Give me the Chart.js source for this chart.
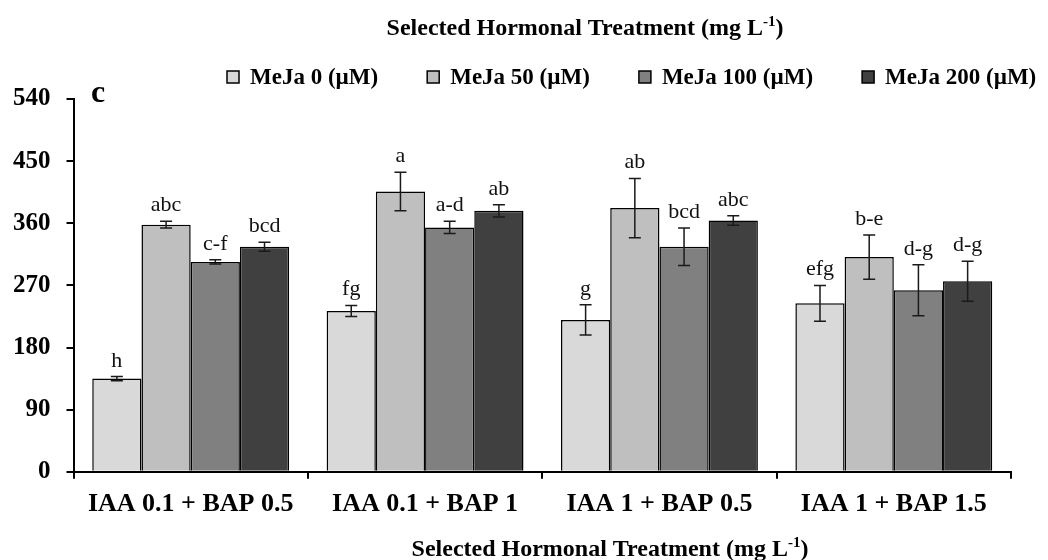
<!DOCTYPE html>
<html>
<head>
<meta charset="utf-8">
<script src="https://cdn.jsdelivr.net/npm/chart.js@4.4.0/dist/chart.umd.min.js"></script>
<style>
  html, body { margin: 0; padding: 0; background: #fff; }
</style>
</head>
<body>
<canvas id="myChart" width="1048" height="560"></canvas>
<script>
const treatments = ["IAA 0.1 + BAP 0.5", "IAA 0.1 + BAP 1", "IAA 1 + BAP 0.5", "IAA 1 + BAP 1.5"];
const seriesNames = ["MeJa 0 (µM)", "MeJa 50 (µM)", "MeJa 100 (µM)", "MeJa 200 (µM)"];
const seriesColors = ["#d9d9d9", "#bfbfbf", "#808080", "#404040"];

const meja0 = [135, 233, 220, 244];
const meja50 = [358, 406, 382, 311];
const meja100 = [304, 354, 326, 263];
const meja200 = [326, 378, 364, 276];

const err0 = [3, 8, 22, 26];
const err50 = [5, 28, 43, 32];
const err100 = [3, 9, 27, 37];
const err200 = [6.5, 9, 7, 29];

const letters0 = ["h", "fg", "g", "efg"];
const letters50 = ["abc", "a", "ab", "b-e"];
const letters100 = ["c-f", "a-d", "bcd", "d-g"];
const letters200 = ["bcd", "ab", "abc", "d-g"];

const yTicks = [0, 90, 180, 270, 360, 450, 540];

const SERIF = "'Liberation Serif', 'Times New Roman', serif";

function makeDataset(i, values, errors, letters) {
    return {
        label: seriesNames[i],
        data: values,
        errors: errors,
        letters: letters,
        backgroundColor: seriesColors[i],
        borderColor: "#000",
        borderWidth: 1.5,
        categoryPercentage: 0.84,
        barPercentage: 1.0
    };
}

// error bars plus the significance letters above them
const errorBars = {
    id: "errorBars",
    afterDatasetsDraw(chart) {
        const { ctx, scales: { y } } = chart;
        ctx.save();
        chart.data.datasets.forEach((ds, di) => {
            const meta = chart.getDatasetMeta(di);
            meta.data.forEach((bar, i) => {
                const v = ds.data[i];
                const e = ds.errors[i];
                const top = y.getPixelForValue(v + e);
                const bot = y.getPixelForValue(v - e);
                const x = bar.x;
                ctx.strokeStyle = "#1a1a1a";
                ctx.lineWidth = 1.5;
                ctx.beginPath();
                ctx.moveTo(x, top); ctx.lineTo(x, bot);
                ctx.moveTo(x - 6, top); ctx.lineTo(x + 6, top);
                ctx.moveTo(x - 6, bot); ctx.lineTo(x + 6, bot);
                ctx.stroke();

                ctx.fillStyle = "#111";
                ctx.font = "22px " + SERIF;
                ctx.textAlign = "center";
                ctx.textBaseline = "alphabetic";
                ctx.fillText(ds.letters[i], x, top - 10);
            });
        });
        ctx.restore();
    }
};

function drawAxisTitle(ctx, cx, cy) {
    const main = "Selected Hormonal Treatment (mg L";
    const sup = "-1";
    const tail = ")";
    ctx.font = "bold 24px " + SERIF;
    const w1 = ctx.measureText(main).width;
    const w3 = ctx.measureText(tail).width;
    ctx.font = "bold 15px " + SERIF;
    const w2 = ctx.measureText(sup).width;
    let x = cx - (w1 + w2 + w3) / 2;
    ctx.textAlign = "left";
    ctx.textBaseline = "alphabetic";
    ctx.font = "bold 24px " + SERIF;
    ctx.fillText(main, x, cy);
    x += w1;
    ctx.font = "bold 15px " + SERIF;
    ctx.fillText(sup, x, cy - 9);
    x += w2;
    ctx.font = "bold 24px " + SERIF;
    ctx.fillText(tail, x, cy);
}

// titles, legend and panel letter
const decorations = {
    id: "decorations",
    afterDraw(chart) {
        const { ctx } = chart;
        ctx.save();
        ctx.fillStyle = "#000";
        drawAxisTitle(ctx, 585, 35);
        drawAxisTitle(ctx, 610, 556);

        ctx.font = "bold 32px " + SERIF;
        ctx.textAlign = "left";
        ctx.textBaseline = "alphabetic";
        ctx.fillText("c", 91, 102);

        let x = 227;
        const ly = 77;
        chart.data.datasets.forEach((ds) => {
            ctx.fillStyle = ds.backgroundColor;
            ctx.fillRect(x, ly - 6, 12, 12);
            ctx.strokeStyle = "#000";
            ctx.lineWidth = 1.5;
            ctx.strokeRect(x, ly - 6, 12, 12);
            ctx.fillStyle = "#000";
            ctx.font = "bold 23px " + SERIF;
            ctx.textBaseline = "middle";
            ctx.fillText(ds.label, x + 23, ly + 1);
            x += 23 + ctx.measureText(ds.label).width + 49;
        });
        ctx.restore();
    }
};

const chartElement = document.getElementById("myChart");

new Chart(chartElement, {
    type: "bar",
    data: {
        labels: treatments,
        datasets: [
            makeDataset(0, meja0, err0, letters0),
            makeDataset(1, meja50, err50, letters50),
            makeDataset(2, meja100, err100, letters100),
            makeDataset(3, meja200, err200, letters200)
        ]
    },
    options: {
        responsive: false,
        devicePixelRatio: 1,
        animation: false,
        layout: { padding: { left: -3, right: 37, top: 99, bottom: 30 } },
        plugins: {
            legend: { display: false },
            title: { display: false },
            tooltip: { enabled: false }
        },
        scales: {
            x: {
                grid: {
                    drawOnChartArea: false,
                    drawTicks: true,
                    tickLength: 7,
                    color: "#000",
                    lineWidth: 2
                },
                border: { display: true, color: "#000", width: 2 },
                ticks: {
                    color: "#000",
                    padding: 10,
                    font: { family: SERIF, size: 26, weight: "bold" }
                }
            },
            y: {
                min: 0,
                max: 540,
                afterBuildTicks: (scale) => {
                    scale.ticks = yTicks.map(v => ({ value: v }));
                },
                grid: {
                    drawOnChartArea: false,
                    drawTicks: true,
                    tickLength: 7,
                    color: "#000",
                    lineWidth: 2
                },
                border: { display: true, color: "#000", width: 2 },
                ticks: {
                    color: "#000",
                    padding: 16,
                    font: { family: SERIF, size: 25, weight: "bold" }
                }
            }
        }
    },
    plugins: [errorBars, decorations]
});
</script>
</body>
</html>
